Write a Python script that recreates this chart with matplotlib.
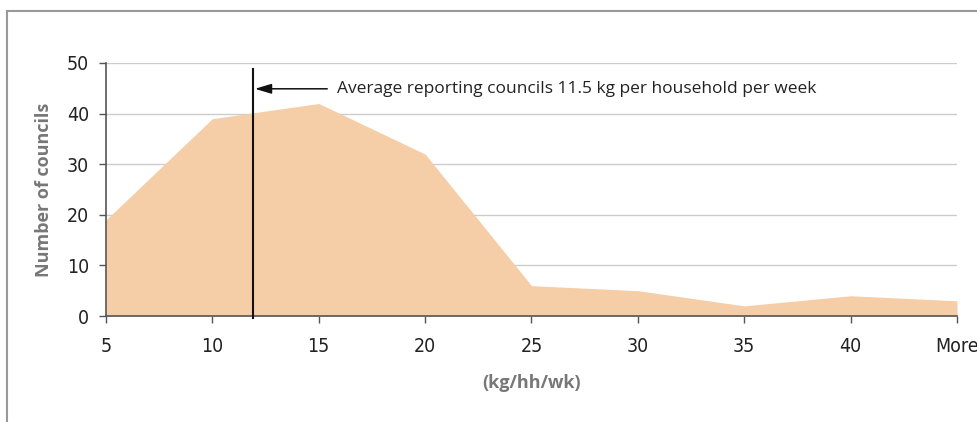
import numpy as np
import matplotlib
matplotlib.use('Agg')
import matplotlib.pyplot as plt
from matplotlib.lines import Line2D

# councils per band of kg/household/week
bands = ['5', '10', '15', '20', '25', '30', '35', '40', 'More']
councils = [19, 39, 42, 32, 6, 5, 2, 4, 3]

avg_pos = 1.38   # where the 11.5 kg average marker sits on the band axis
avg_label = 'Average reporting councils 11.5 kg per household per week'

body = ['Open Sans', 'DejaVu Sans']

fig = plt.figure(figsize=(9.78, 4.22), dpi=100)
ax = fig.add_axes([106/978, (422-316)/422, (957-106)/978, (316-63)/422])

x = np.arange(len(bands))
ax.fill_between(x, councils, 0, color='#f5cda6', lw=0, zorder=2)

ax.set_xlim(0, len(bands) - 1)
ax.set_ylim(0, 50)
ax.set_yticks(range(0, 51, 10))
ax.set_xticks(x)
ax.set_xticklabels(bands)
for t in ax.get_xticklabels() + ax.get_yticklabels():
    t.set_family('DejaVu Sans')
    t.set_stretch('condensed')
    t.set_fontsize(14)

ax.yaxis.grid(True, color='#cccccc', lw=1, zorder=0)
ax.set_axisbelow(True)
for s in ['top', 'right']:
    ax.spines[s].set_visible(False)
for s in ['left', 'bottom']:
    ax.spines[s].set_color('#555555')
    ax.spines[s].set_linewidth(1.2)
ax.tick_params(axis='both', color='#555555', length=5, width=1, colors='#222222')
ax.tick_params(axis='x', pad=10)
ax.tick_params(axis='y', pad=7)

# average marker line and label
ax.plot([avg_pos, avg_pos], [-0.3, 48.8], color='#111111', lw=1.5, zorder=4, clip_on=False)
ax.annotate('', xy=(avg_pos + 0.02, 44.9), xytext=(2.08, 44.9),
            arrowprops=dict(arrowstyle='-|>,head_length=1.0,head_width=0.3',
                            color='#111111', lw=1.1, shrinkA=0, shrinkB=0), zorder=5)
ax.text(2.17, 44.9, avg_label, va='center', ha='left', family=body, fontsize=12.5, color='#222222')

ax.set_ylabel('Number of councils', family=body, fontsize=13, fontweight='bold',
              color='#777777', labelpad=10)
ax.set_xlabel('(kg/hh/wk)', family=body, fontsize=13, fontweight='bold',
              color='#777777', labelpad=13)

# outer frame (top and left edges only)
fig.add_artist(Line2D([7/978, 1], [1 - 11/422, 1 - 11/422], color='#999999', lw=1.5))
fig.add_artist(Line2D([7/978, 7/978], [0, 1 - 11/422], color='#999999', lw=1.5))

fig.savefig('out.png', dpi=100)
